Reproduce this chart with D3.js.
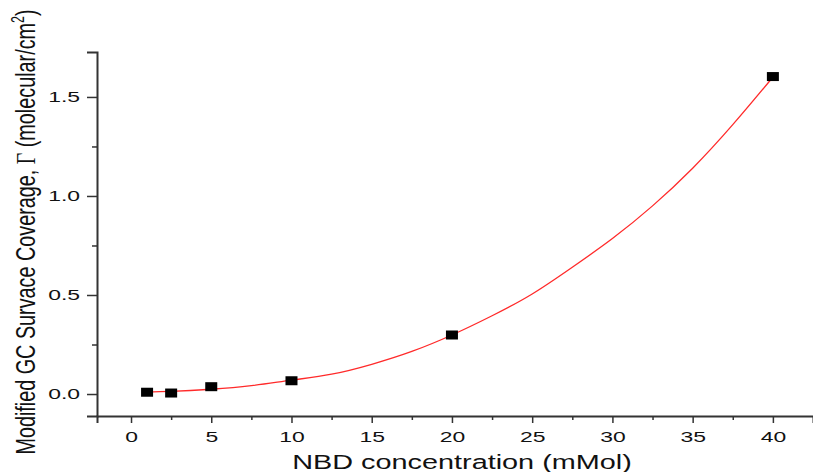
<!DOCTYPE html>
<html>
<head>
<meta charset="utf-8">
<script src="https://cdn.jsdelivr.net/npm/d3@7"></script>
<style>
  html, body { margin: 0; padding: 0; background: #fff; }
  svg { display: block; font-family: "Liberation Sans", Arial, sans-serif; }
</style>
</head>
<body>
<div id="chart"></div>
<script>
// measured points
const concentration = [1, 2.5, 5, 10, 20, 40];
const coverage = [0.009, 0.005, 0.037, 0.067, 0.298, 1.603];

// fitted curve
const fitX = [1, 2.5, 5, 7.5, 10, 12.5, 15, 17.5, 20, 22.5, 25, 27.5, 30, 32.5, 35, 37.5, 40];
const fitY = [0.010, 0.013, 0.024, 0.042, 0.070, 0.100, 0.150, 0.215, 0.298, 0.395, 0.505, 0.640, 0.785, 0.950, 1.140, 1.360, 1.600];

// tick labels
const xMajor = [0, 5, 10, 15, 20, 25, 30, 35, 40];
const xMinor = [2.5, 7.5, 12.5, 17.5, 22.5, 27.5, 32.5, 37.5];
const yMajor = [0, 0.5, 1.0, 1.5];
const yMinor = [0.25, 0.75, 1.25];

const xLabel = "NBD concentration (mMol)";
const yLabel = "Modified GC Survace Coverage, ";

(function() {
    const width = 813, height = 472;
    const stretch = 1.48; // the original picture is stretched sideways

    const x = d3.scaleLinear().domain([-2.12, 42.5]).range([97, 813]);
    const y = d3.scaleLinear().domain([-0.111, 1.727]).range([416, 52]);

    const svg = d3.select("#chart").append("svg")
        .attr("width", width)
        .attr("height", height)
        .attr("viewBox", [0, 0, width, height]);

    const axisColor = "#333";
    const textColor = "#111";

    // x axis
    svg.append("g")
        .attr("transform", `translate(0,416)`)
        .call(d3.axisBottom(x).tickValues(xMajor).tickSizeOuter(0).tickSize(7).tickFormat(d3.format("d")))
        .call(g => g.select(".domain").attr("stroke", axisColor).attr("stroke-width", 2))
        .call(g => g.selectAll(".tick line").attr("stroke", axisColor).attr("stroke-width", 1.5))
        .call(g => g.selectAll(".tick text")
            .attr("fill", textColor)
            .attr("font-size", 15.5)
            .attr("y", 26).attr("dy", 0)
            .attr("transform", `scale(${stretch},1)`));

    svg.append("g")
        .attr("transform", `translate(0,416)`)
        .call(d3.axisBottom(x).tickValues(xMinor).tickSize(4).tickFormat(""))
        .call(g => g.select(".domain").remove())
        .call(g => g.selectAll(".tick line").attr("stroke", axisColor).attr("stroke-width", 1.5));

    // y axis
    svg.append("g")
        .attr("transform", `translate(97,0)`)
        .call(d3.axisLeft(y).tickValues(yMajor).tickSizeOuter(0).tickSize(10).tickFormat(d3.format(".1f")))
        .call(g => g.select(".domain").attr("stroke", axisColor).attr("stroke-width", 2))
        .call(g => g.selectAll(".tick line").attr("stroke", axisColor).attr("stroke-width", 1.5))
        .call(g => g.selectAll(".tick text")
            .attr("fill", textColor)
            .attr("font-size", 15.5)
            .attr("x", -17 / stretch)
            .attr("transform", `scale(${stretch},1)`));

    svg.append("g")
        .attr("transform", `translate(97,0)`)
        .call(d3.axisLeft(y).tickValues(yMinor).tickSize(5).tickFormat(""))
        .call(g => g.select(".domain").remove())
        .call(g => g.selectAll(".tick line").attr("stroke", axisColor).attr("stroke-width", 1.5));

    // fit curve
    const line = d3.line()
        .x((d, i) => x(fitX[i]))
        .y(d => y(d))
        .curve(d3.curveNatural);

    svg.append("path")
        .datum(fitY)
        .attr("fill", "none")
        .attr("stroke", "#ff2a2a")
        .attr("stroke-width", 1.3)
        .attr("d", line);

    // data squares
    svg.append("g")
        .selectAll("rect")
        .data(concentration)
        .join("rect")
            .attr("x", d => x(d) - 6)
            .attr("y", (d, i) => y(coverage[i]) - 4.5)
            .attr("width", 12)
            .attr("height", 9)
            .attr("fill", "#000");

    // axis titles
    svg.append("text")
        .attr("transform", `translate(462,469) scale(${stretch},1)`)
        .attr("text-anchor", "middle")
        .attr("font-size", 19.5)
        .attr("fill", textColor)
        .text(xLabel);

    const yt = svg.append("text")
        .attr("transform", `translate(35,232) scale(1.4,1) rotate(-90)`)
        .attr("text-anchor", "middle")
        .attr("font-size", 19.8)
        .attr("fill", textColor);
    yt.append("tspan").text(yLabel);
    yt.append("tspan").attr("font-family", "Liberation Serif, serif").text("\u0393");
    yt.append("tspan").text(" (molecular/cm");
    yt.append("tspan").attr("font-size", 12.5).attr("dy", -8).text("2");
    yt.append("tspan").attr("dy", 8).text(")");
})();
</script>
</body>
</html>
